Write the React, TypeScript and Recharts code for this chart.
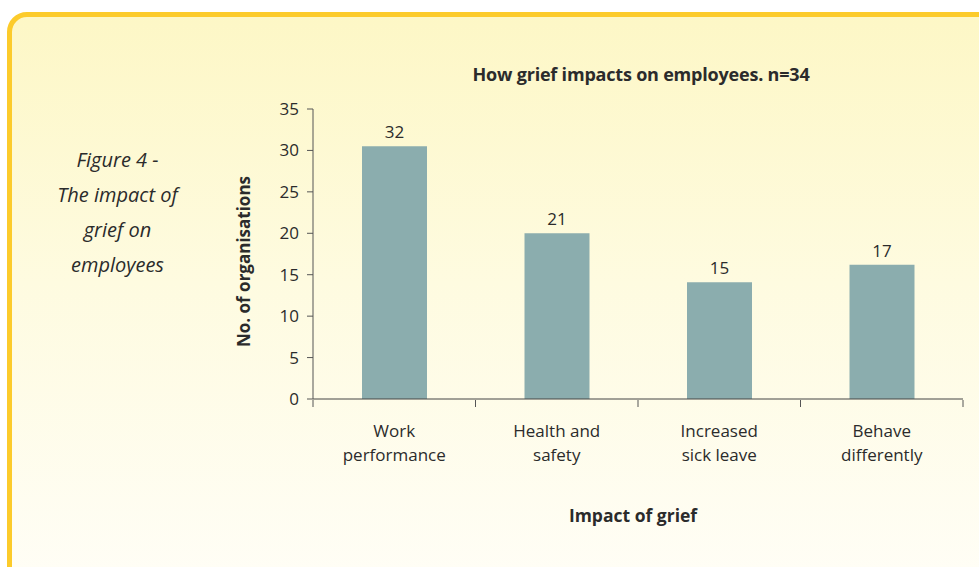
import React from 'react';
import { BarChart, Bar, XAxis, YAxis, LabelList } from 'recharts';

const categories = ['Work performance', 'Health and safety', 'Increased sick leave', 'Behave differently'];
const tickLines = [['Work', 'performance'], ['Health and', 'safety'], ['Increased', 'sick leave'], ['Behave', 'differently']];
// bar heights as drawn in the reference, and the numbers printed above them
const barHeights = [30.5, 20.0, 14.1, 16.2];
const valueLabels = [32, 21, 15, 17];
const yTicks = [0, 5, 10, 15, 20, 25, 30, 35];

const data = categories.map((name, i) => ({ name, value: barHeights[i], label: valueLabels[i] }));

const font = '"Open Sans", Lato, sans-serif';
const textColor = '#2b2b2b';

function CategoryTick(props: any) {
  const { x, y, index, payload } = props;
  const half = payload && payload.offset ? payload.offset : 81.25;
  const lines = tickLines[index] || [];
  return (
    <g>
      {index === 0 && <line x1={x - half} x2={x - half} y1={y - 7} y2={y} stroke="#555" strokeWidth={1} />}
      <line x1={x + half} x2={x + half} y1={y - 7} y2={y} stroke="#555" strokeWidth={1} />
      <text x={x} y={y + 30} textAnchor="middle" fill={textColor} fontSize={17} fontFamily={font}>
        {lines.map((l, i) => (
          <tspan key={i} x={x} dy={i === 0 ? 0 : 24}>{l}</tspan>
        ))}
      </text>
    </g>
  );
}

export default function App() {
  return (
    <div style={{ position: 'absolute', left: 0, top: 0, width: 979, height: 567, overflow: 'hidden', background: '#fff', fontFamily: font }}>
      <div
        style={{
          position: 'absolute',
          left: 7,
          top: 12,
          width: 1000,
          height: 600,
          border: '5px solid #fccb2b',
          borderRadius: 20,
          boxSizing: 'border-box',
          background: 'linear-gradient(to bottom, #fdf7c6 0%, #fefbe0 45%, #fffef8 100%)',
        }}
      />
      <div style={{ position: 'absolute', left: 40, top: 142, width: 155, textAlign: 'center', fontStyle: 'italic', fontSize: 20, lineHeight: '35px', color: textColor }}>
        Figure 4 -<br />The impact of<br />grief on<br />employees
      </div>
      <div style={{ position: 'absolute', left: 313, top: 62, width: 656, textAlign: 'center', fontWeight: 700, fontSize: 18, color: textColor, letterSpacing: -0.2 }}>
        How grief impacts on employees. n=34
      </div>
      <div style={{ position: 'absolute', left: 313, top: 503, width: 640, textAlign: 'center', fontWeight: 700, fontSize: 17.5, color: textColor }}>
        Impact of grief
      </div>
      <div style={{ position: 'absolute', left: 143, top: 250, width: 200, textAlign: 'center', fontWeight: 700, fontSize: 17, color: textColor, transform: 'rotate(-90deg)' }}>
        No. of organisations
      </div>
      <div style={{ position: 'absolute', left: 0, top: 0 }}>
        <BarChart width={979} height={567} data={data} margin={{ top: 109, right: 16, bottom: 108, left: 253 }} barCategoryGap="30%">
          <XAxis
            dataKey="name"
            height={60}
            axisLine={{ stroke: '#444' }}
            tickLine={false}
            interval={0}
            tick={<CategoryTick />}
          />
          <YAxis
            width={60}
            domain={[0, 35]}
            ticks={yTicks}
            interval={0}
            axisLine={{ stroke: '#555' }}
            tickLine={{ stroke: '#555' }}
            tickSize={6}
            tickMargin={8}
            tick={{ fill: textColor, fontSize: 17, fontFamily: font }}
          />
          <Bar dataKey="value" fill="#8badae" barSize={65} isAnimationActive={false}>
            <LabelList dataKey="label" position="top" offset={8} fill={textColor} fontSize={17} fontFamily={font} />
          </Bar>
        </BarChart>
      </div>
    </div>
  );
}
